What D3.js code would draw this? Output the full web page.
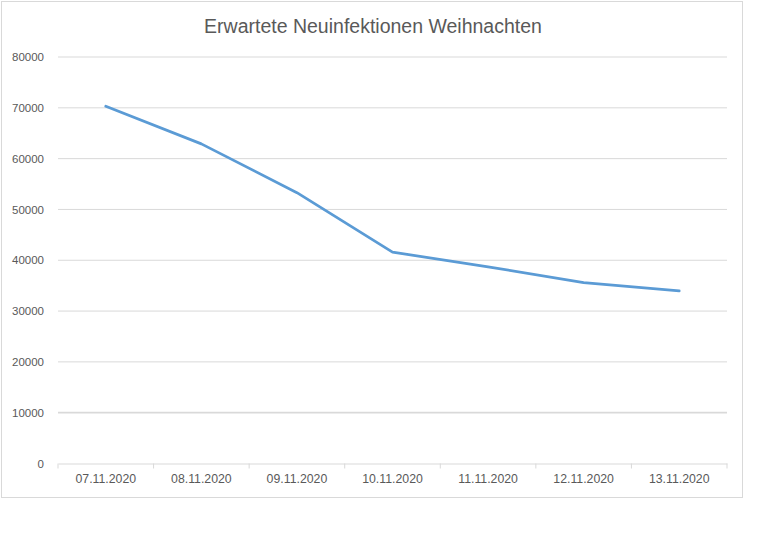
<!DOCTYPE html>
<html>
<head>
<meta charset="utf-8">
<script src="https://cdn.jsdelivr.net/npm/d3@7"></script>
<style>
  body { margin: 0; background: #fff; }
  text { font-family: "Liberation Sans", Arial, sans-serif; fill: #595959; }
</style>
</head>
<body>
<svg id="chart" width="768" height="553"></svg>
<script>
const dates = ["07.11.2020", "08.11.2020", "09.11.2020", "10.11.2020", "11.11.2020", "12.11.2020", "13.11.2020"];
const values = [70300, 62900, 53300, 41600, 38700, 35600, 33950];
const yTicks = [0, 10000, 20000, 30000, 40000, 50000, 60000, 70000, 80000];
const title = "Erwartete Neuinfektionen Weihnachten";

const svg = d3.select("#chart");
const margin = { left: 58, right: 727, top: 57, bottom: 463.5 };

// chart frame
svg.append("rect")
  .attr("x", 1.5).attr("y", 1.5)
  .attr("width", 741).attr("height", 496)
  .attr("fill", "#fff")
  .attr("stroke", "#d9d9d9");

svg.append("text")
  .attr("x", 373).attr("y", 33)
  .attr("text-anchor", "middle")
  .style("font-size", "19.5px")
  .text(title);

const x = d3.scaleBand().domain(dates).range([margin.left, margin.right]);
const y = d3.scaleLinear().domain([0, 80000]).range([margin.bottom, margin.top]);

// gridlines (the 10000 one looks heavier in the original)
svg.append("g").selectAll("line")
  .data(yTicks.filter(d => d > 0))
  .join("line")
  .attr("x1", margin.left).attr("x2", margin.right)
  .attr("y1", d => y(d)).attr("y2", d => y(d))
  .attr("stroke", "#d9d9d9")
  .attr("stroke-width", d => d === 10000 ? 1.8 : 1);

// y axis labels
const yAxis = svg.append("g")
  .attr("transform", `translate(${margin.left},0)`)
  .call(d3.axisLeft(y).tickValues(yTicks).tickSize(0).tickPadding(14).tickFormat(d3.format("d")));
yAxis.select(".domain").remove();
yAxis.selectAll("text").style("font-size", "11.5px").attr("fill", "#595959");

// x axis
const xAxis = svg.append("g")
  .attr("transform", `translate(0,${margin.bottom})`)
  .call(d3.axisBottom(x).tickSize(0).tickPadding(11));
xAxis.select(".domain").attr("stroke", "#d9d9d9");
xAxis.selectAll("text").style("font-size", "12.3px").attr("fill", "#595959");
// category separator ticks
const bounds = dates.map(d => x(d)).concat([margin.right]);
xAxis.append("g").selectAll("line")
  .data(bounds)
  .join("line")
  .attr("x1", d => d).attr("x2", d => d)
  .attr("y1", 0).attr("y2", 5)
  .attr("stroke", "#d9d9d9");

// series line
const line = d3.line()
  .x((d, i) => x(dates[i]) + x.bandwidth() / 2)
  .y(d => y(d));

svg.append("path")
  .datum(values)
  .attr("d", line)
  .attr("fill", "none")
  .attr("stroke", "#5b9bd5")
  .attr("stroke-width", 2.75)
  .attr("stroke-linejoin", "round")
  .attr("stroke-linecap", "round");
</script>
</body>
</html>
